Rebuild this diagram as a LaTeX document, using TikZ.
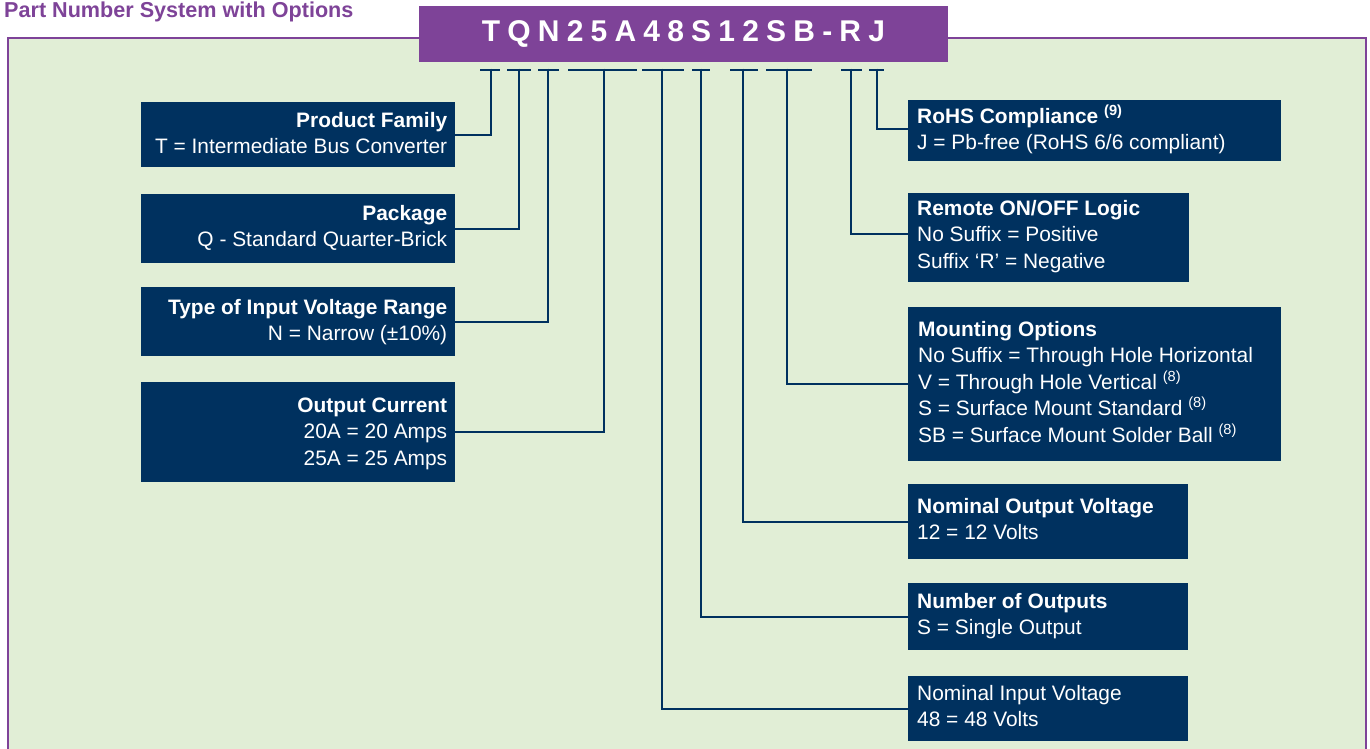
\documentclass[tikz,border=0pt]{standalone}
\usepackage{fontspec}
\setmainfont{Liberation Sans}
\usetikzlibrary{positioning}
\definecolor{pnpurple}{HTML}{7E4398}
\definecolor{pnnavy}{HTML}{00315F}
\definecolor{pngreen}{HTML}{E1EED6}
\tikzset{
  infobox/.style={fill=pnnavy, inner sep=0pt, anchor=north west},
  lefttext/.style={text=white, inner sep=0pt, align=right, anchor=base east,
    font=\fontsize{20.9}{26.5}\selectfont},
  righttext/.style={text=white, inner sep=0pt, align=left, anchor=base west,
    font=\fontsize{20.9}{26.5}\selectfont},
  conn/.style={pnnavy, line width=2.4pt},
  tickbar/.style={pnnavy, line width=2.8pt}
}
\begin{document}
\begin{tikzpicture}[x=1pt,y=-1pt]
        \useasboundingbox (0,0) rectangle (1370,748);
        \clip (0,0) rectangle (1370,748);
        % Draw panel and title
        \draw[pnpurple, line width=2.5pt, fill=pngreen] (8,38) rectangle (1366,780);
        \node[anchor=base west, inner sep=0pt, text=pnpurple, font=\fontsize{21.6}{25}\selectfont\bfseries] (title) at (4,17) {Part Number System with Options};
        \node[fill=pnpurple, minimum width=529pt, minimum height=56pt, inner sep=0pt, text=white,
          font=\fontsize{30}{36}\selectfont\bfseries] (pn) at (683.5,34) {\addfontfeature{LetterSpace=24}TQN25A48S12SB-RJ};
        % Draw ticks under the code
        \foreach \l/\s/\r [count=\i] in {480/491/500, 507/519/531, 538/548/559, 568/604/637, 642/662/684,
            692/701/710, 730/743/758, 766/787/812, 841/851/862, 869/877/884} {
          \draw[tickbar] (\l,70) -- (\r,70);
          \coordinate (s\i) at (\s,68.6);
        }
        % Left boxes (text placed by the baseline of its last line)
        \node[infobox, minimum width=314pt, minimum height=65pt] (pf) at (141,102) {};
        \node[lefttext] (pftxt) at ([xshift=-8pt,yshift=-51.5pt]pf.north east) {\textbf{Product Family}\\T = Intermediate Bus Converter};
        \node[infobox, minimum width=314pt, minimum height=69pt] (pk) at (141,194) {};
        \node[lefttext] (pktxt) at ([xshift=-8pt,yshift=-52.5pt]pk.north east) {\textbf{Package}\\Q - Standard Quarter-Brick};
        \node[infobox, minimum width=314pt, minimum height=69pt] (ir) at (141,287) {};
        \node[lefttext] (irtxt) at ([xshift=-8pt,yshift=-53.5pt]ir.north east) {\textbf{Type of Input Voltage Range}\\N = Narrow (±10\%)};
        \node[infobox, minimum width=314pt, minimum height=100pt] (oc) at (141,382) {};
        \node[lefttext] (octxt) at ([xshift=-8pt,yshift=-83pt]oc.north east) {\textbf{Output Current}\\20A = 20 Amps\\25A = 25 Amps};
        % Right boxes
        \node[infobox, minimum width=373pt, minimum height=61pt] (rh) at (908,100) {};
        \node[righttext] (rhtxt) at ([xshift=9pt,yshift=-49.5pt]rh.north west) {\textbf{RoHS Compliance \textsuperscript{(9)}}\\J = Pb-free (RoHS 6/6 compliant)};
        \node[infobox, minimum width=281pt, minimum height=89pt] (rm) at (908,193) {};
        \node[righttext] (rmtxt) at ([xshift=9pt,yshift=-75pt]rm.north west) {\textbf{Remote ON/OFF Logic}\\No Suffix = Positive\\Suffix ‘R’ = Negative};
        \node[infobox, minimum width=373pt, minimum height=154pt] (mo) at (908,307) {};
        \node[righttext] (motxt) at ([xshift=10pt,yshift=-135pt]mo.north west) {\textbf{Mounting Options}\\No Suffix = Through Hole Horizontal\\V = Through Hole Vertical \textsuperscript{(8)}\\S = Surface Mount Standard \textsuperscript{(8)}\\SB = Surface Mount Solder Ball \textsuperscript{(8)}};
        \node[infobox, minimum width=280pt, minimum height=75pt] (ov) at (908,484) {};
        \node[righttext] (ovtxt) at ([xshift=9pt,yshift=-55.5pt]ov.north west) {\textbf{Nominal Output Voltage}\\12 = 12 Volts};
        \node[infobox, minimum width=280pt, minimum height=67pt] (no) at (908,583) {};
        \node[righttext] (notxt) at ([xshift=9pt,yshift=-51.5pt]no.north west) {\textbf{Number of Outputs}\\S = Single Output};
        \node[infobox, minimum width=280pt, minimum height=65pt] (iv) at (908,676) {};
        \node[righttext] (ivtxt) at ([xshift=9pt,yshift=-50.5pt]iv.north west) {Nominal Input Voltage\\48 = 48 Volts};
        % Draw connectors
        \draw[conn] (s1) |- (pf.east);
        \draw[conn] (s2) |- (pk.east);
        \draw[conn] (s3) |- (ir.east);
        \draw[conn] (s4) |- (oc.east);
        \draw[conn] (s5) |- (iv.west);
        \draw[conn] (s6) |- (no.west);
        \draw[conn] (s7) |- (ov.west);
        \draw[conn] (s8) |- (mo.west);
        \draw[conn] (s9) |- ([yshift=4pt]rm.west);
        \draw[conn] (s10) |- ([yshift=1.5pt]rh.west);
      \end{tikzpicture}
\end{document}
